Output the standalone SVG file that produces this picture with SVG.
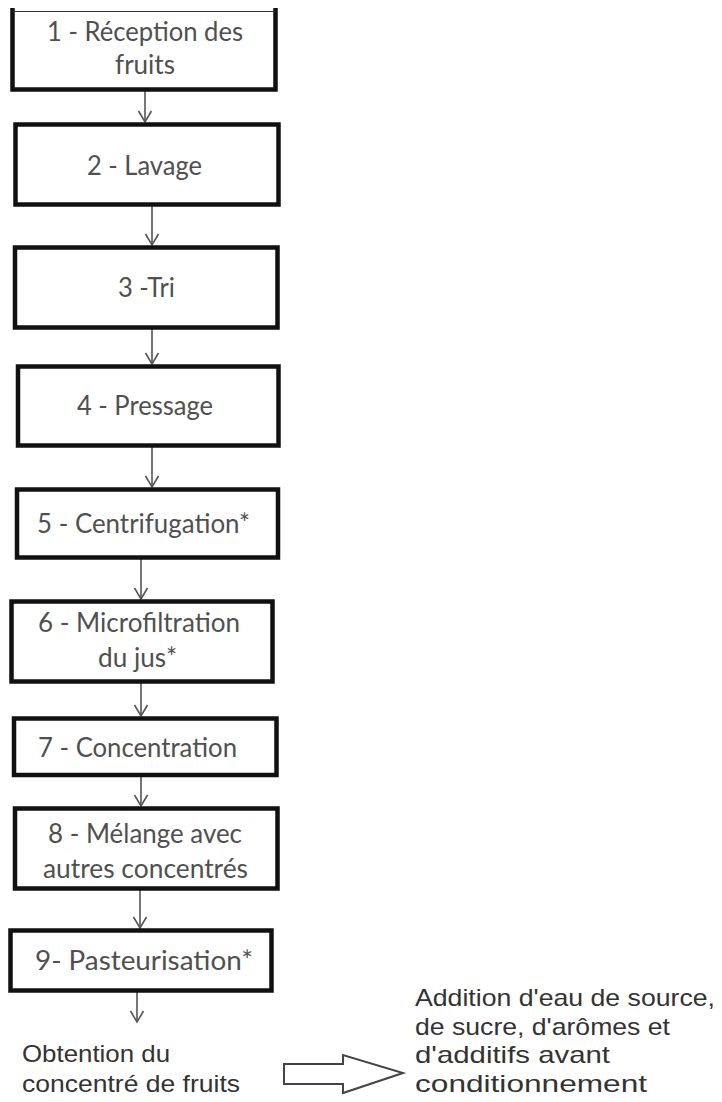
<svg xmlns="http://www.w3.org/2000/svg" width="722" height="1102" viewBox="0 0 722 1102">
  <style>
    .box { fill: #ffffff; stroke: #111111; stroke-width: 4.5; }
    .bt { font-family: Lato, "Open Sans", sans-serif; font-size: 26px; fill: #505050; }
    .pt { font-family: "Liberation Sans", Arial, sans-serif; font-size: 24px; fill: #333333; }
    .conn { stroke: #555555; stroke-width: 1.6; fill: none; }
    .big { fill: #ffffff; stroke: #444444; stroke-width: 2; stroke-linejoin: miter; }
  </style>
  <defs>
    <marker id="ah" markerUnits="userSpaceOnUse" markerWidth="18" markerHeight="18" refX="13" refY="9" orient="auto">
      <path d="M2,2.5 L13,9 L2,15.5" fill="none" stroke="#555555" stroke-width="1.6"/>
    </marker>
  </defs>
  <rect width="722" height="1102" fill="#ffffff"/>

  <g id="connectors">
    <line class="conn" x1="145" y1="90" x2="145" y2="122" marker-end="url(#ah)"/>
    <line class="conn" x1="152" y1="205" x2="152" y2="245" marker-end="url(#ah)"/>
    <line class="conn" x1="152" y1="328" x2="152" y2="364" marker-end="url(#ah)"/>
    <line class="conn" x1="152" y1="446" x2="152" y2="487" marker-end="url(#ah)"/>
    <line class="conn" x1="141" y1="558" x2="141" y2="599" marker-end="url(#ah)"/>
    <line class="conn" x1="141" y1="682" x2="141" y2="716" marker-end="url(#ah)"/>
    <line class="conn" x1="141" y1="775" x2="141" y2="806" marker-end="url(#ah)"/>
    <line class="conn" x1="140" y1="889" x2="140" y2="928" marker-end="url(#ah)"/>
    <line class="conn" x1="137" y1="991" x2="137" y2="1022" marker-end="url(#ah)"/>
    <path id="big-arrow" class="big" d="M284,1064 L343,1064 L343,1055 L403,1073 L343,1093 L343,1084 L284,1084 Z"/>
  </g>

  <g id="n1">
    <path d="M12.5,8 L12.5,89.5 L275.5,89.5 L275.5,8" fill="#ffffff" stroke="#111111" stroke-width="4.5"/>
    <line x1="12.5" y1="11.5" x2="275.5" y2="11.5" stroke="#333333" stroke-width="1.2"/>
    <text class="bt" x="47" y="41" textLength="196" lengthAdjust="spacingAndGlyphs">1 - Réception des</text>
    <text class="bt" x="115" y="74" textLength="60" lengthAdjust="spacingAndGlyphs">fruits</text>
  </g>
  <g id="n2">
    <rect class="box" x="15.5" y="124.5" width="263" height="80"/>
    <text class="bt" x="87" y="175" textLength="115" lengthAdjust="spacingAndGlyphs">2 - Lavage</text>
  </g>
  <g id="n3">
    <rect class="box" x="15" y="247.5" width="262.5" height="80"/>
    <text class="bt" x="118" y="297" textLength="57" lengthAdjust="spacingAndGlyphs">3 -Tri</text>
  </g>
  <g id="n4">
    <rect class="box" x="18" y="366.5" width="260.5" height="79"/>
    <text class="bt" x="77" y="415" textLength="136" lengthAdjust="spacingAndGlyphs">4 - Pressage</text>
  </g>
  <g id="n5">
    <rect class="box" x="17" y="489.5" width="261" height="68"/>
    <text class="bt" x="37" y="533" textLength="213" lengthAdjust="spacingAndGlyphs">5 - Centrifugation*</text>
  </g>
  <g id="n6">
    <rect class="box" x="11.5" y="601.5" width="261" height="80"/>
    <text class="bt" x="38" y="632" textLength="202" lengthAdjust="spacingAndGlyphs">6 - Microfiltration</text>
    <text class="bt" x="98" y="667" textLength="79" lengthAdjust="spacingAndGlyphs">du jus*</text>
  </g>
  <g id="n7">
    <rect class="box" x="14" y="718.5" width="262.5" height="56.5"/>
    <text class="bt" x="38" y="757" textLength="199" lengthAdjust="spacingAndGlyphs">7 - Concentration</text>
  </g>
  <g id="n8">
    <rect class="box" x="15" y="808.5" width="262.5" height="80"/>
    <text class="bt" x="48" y="843" textLength="194" lengthAdjust="spacingAndGlyphs">8 - Mélange avec</text>
    <text class="bt" x="43" y="878" textLength="205" lengthAdjust="spacingAndGlyphs">autres concentrés</text>
  </g>
  <g id="n9">
    <rect class="box" x="10.5" y="930.5" width="261" height="60"/>
    <text class="bt" x="35" y="970" textLength="218" lengthAdjust="spacingAndGlyphs">9- Pasteurisation*</text>
  </g>

  <g id="result">
    <text class="pt" x="22" y="1062" textLength="148" lengthAdjust="spacingAndGlyphs">Obtention du</text>
    <text class="pt" x="22" y="1092" textLength="218" lengthAdjust="spacingAndGlyphs">concentré de fruits</text>
  </g>
  <g id="addition">
    <text class="pt" x="415" y="1006" textLength="300" lengthAdjust="spacingAndGlyphs">Addition d'eau de source,</text>
    <text class="pt" x="415" y="1035" textLength="255" lengthAdjust="spacingAndGlyphs">de sucre, d'arômes et</text>
    <text class="pt" x="415" y="1063" textLength="195" lengthAdjust="spacingAndGlyphs">d'additifs avant</text>
    <text class="pt" x="415" y="1092" textLength="232" lengthAdjust="spacingAndGlyphs">conditionnement</text>
  </g>
</svg>
